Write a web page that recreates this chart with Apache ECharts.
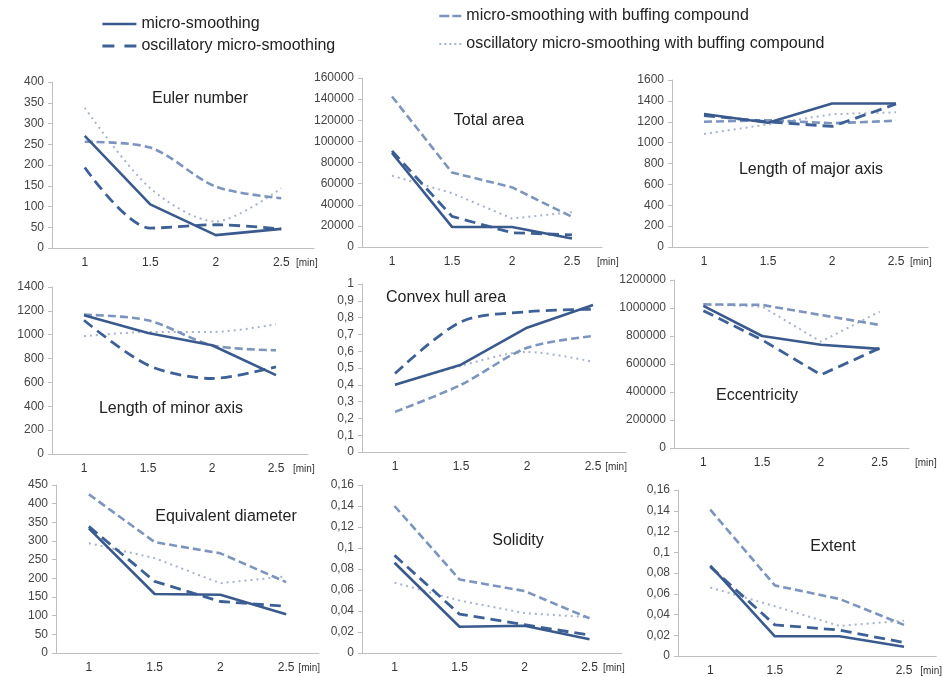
<!DOCTYPE html>
<html>
<head>
<meta charset="utf-8">
<script src="https://cdn.jsdelivr.net/npm/echarts@6/dist/echarts.min.js"></script>
<style>
html, body { margin: 0; padding: 0; background: #fff; }
#chart { width: 943px; height: 677px; }
</style>
</head>
<body>
<div id="chart"></div>
<script>
var minutes = ['1', '1.5', '2', '2.5'];
var seriesNames = [
    'micro-smoothing',
    'oscillatory micro-smoothing',
    'micro-smoothing with buffing compound',
    'oscillatory micro-smoothing with buffing compound'
];
var panelTitles = [
    'Euler number', 'Total area', 'Length of major axis',
    'Length of minor axis', 'Convex hull area', 'Eccentricity',
    'Equivalent diameter', 'Solidity', 'Extent'
];
var yMax = [400, 160000, 1600, 1400, 1, 1200000, 450, 0.16, 0.16];
var yStep = [50, 20000, 200, 200, 0.1, 200000, 50, 0.02, 0.02];

// one row per panel, values at 1 / 1.5 / 2 / 2.5 min
var microSmoothing = [
    [270, 105, 31, 46],
    [89000, 19000, 19000, 8000],
    [1275, 1190, 1375, 1375],
    [1163, 1015, 912, 661],
    [0.40, 0.52, 0.74, 0.875],
    [1015000, 800000, 737000, 708000],
    [334, 158, 156, 104],
    [0.086, 0.025, 0.026, 0.013],
    [0.087, 0.019, 0.019, 0.009]
];
var oscillatory = [
    [194, 48, 56, 46],
    [91000, 29000, 13500, 11500],
    [1260, 1200, 1155, 1370],
    [1121, 745, 633, 731],
    [0.467, 0.775, 0.835, 0.85],
    [981000, 772000, 523000, 713000],
    [339, 192, 138, 125],
    [0.093, 0.037, 0.027, 0.017],
    [0.086, 0.030, 0.025, 0.013]
];
var withCompound = [
    [256, 242, 148, 120],
    [142500, 70500, 56500, 28500],
    [1200, 1215, 1185, 1210],
    [1168, 1121, 912, 870],
    [0.239, 0.40, 0.62, 0.69],
    [1026000, 1022000, 950000, 879000],
    [425, 297, 267, 190],
    [0.140, 0.070, 0.059, 0.033],
    [0.141, 0.068, 0.055, 0.030]
];
var oscillatoryWithCompound = [
    [338, 144, 64, 144],
    [67500, 51000, 27000, 33000],
    [1083, 1175, 1272, 1291],
    [987, 1023, 1023, 1087],
    [0.40, 0.513, 0.596, 0.537],
    [1026000, 1010000, 760000, 974000],
    [294, 254, 187, 205],
    [0.067, 0.050, 0.038, 0.034],
    [0.066, 0.048, 0.029, 0.034]
];
var allData = [microSmoothing, oscillatory, withCompound, oscillatoryWithCompound];

// left, top, width, height, [min] gap, title x, title y
var boxes = [
    [52, 82, 262, 166, -18, 200, 99],
    [362, 78, 240, 169, -5, 489, 121],
    [672, 80, 256, 167, -18, 811, 170],
    [52, 287, 256, 167, -15, 171, 409],
    [362, 284, 264, 168, -28, 446, 298],
    [674, 280, 235, 168, 6, 757, 396],
    [56, 485, 263, 168, -21, 226, 517],
    [362, 485, 260, 168, -19, 518, 541],
    [678, 490, 260, 167, -16, 833, 547]
];
var smoothPanels = [0, 3, 4];

var lineStyles = [
    { color: '#3a5a8e', width: 2.6, type: 'solid' },
    { color: '#3d6096', width: 2.8, type: [11, 6] },
    { color: '#7d94bf', width: 2.6, type: [8, 4] },
    { color: '#a8b4cc', width: 2, type: [2, 4] }
];
var legendDash = ['solid', [12, 10], [10, 3], [2, 3]];

function fmt(v) {
    return String(+v.toFixed(2)).replace('.', ',');
}

var chart = echarts.init(document.getElementById('chart'));
var grid = [], xAxis = [], yAxis = [], series = [], texts = [];

boxes.forEach(function (b, i) {
    grid.push({ left: b[0], top: b[1], width: b[2], height: b[3] });
    xAxis.push({
        type: 'category',
        gridIndex: i,
        data: minutes,
        name: '[min]',
        nameLocation: 'end',
        nameGap: b[4],
        nameTextStyle: { fontSize: 10, color: '#333', verticalAlign: 'top', padding: [10, 0, 0, 0] },
        axisLine: { lineStyle: { color: '#bfbfbf' } },
        axisTick: { length: 4, lineStyle: { color: '#bfbfbf' } },
        axisLabel: { color: '#333', fontSize: 12, margin: 9 }
    });
    yAxis.push({
        type: 'value',
        gridIndex: i,
        min: 0,
        max: yMax[i],
        interval: yStep[i],
        splitLine: { show: false },
        axisLine: { show: true, lineStyle: { color: '#bfbfbf' } },
        axisTick: { show: true, length: 4, lineStyle: { color: '#bfbfbf' } },
        axisLabel: { color: '#444', fontSize: 12, margin: 8, formatter: fmt }
    });
    allData.forEach(function (d, s) {
        series.push({
            name: seriesNames[s],
            type: 'line',
            xAxisIndex: i,
            yAxisIndex: i,
            symbol: 'none',
            smooth: s > 0 && smoothPanels.indexOf(i) >= 0 ? 0.3 : false,
            lineStyle: lineStyles[s],
            itemStyle: { color: lineStyles[s].color },
            data: d[i],
            z: 10 - s
        });
    });
    texts.push({
        type: 'text',
        x: b[5],
        y: b[6],
        style: {
            text: panelTitles[i],
            fill: '#222',
            font: '16px "Liberation Sans", Arial, sans-serif',
            textAlign: 'center',
            textVerticalAlign: 'middle'
        }
    });
});

function legendItem(s) {
    return {
        name: seriesNames[s],
        itemStyle: { opacity: 0 },
        lineStyle: { color: lineStyles[s].color, width: lineStyles[s].width, type: legendDash[s] }
    };
}

var legendText = { fontSize: 16, color: '#222', fontFamily: '"Liberation Sans", Arial, sans-serif' };

option = {
    animation: false,
    textStyle: { fontFamily: '"Liberation Sans", Arial, sans-serif' },
    legend: [
        {
            data: [legendItem(0), legendItem(1)],
            orient: 'vertical',
            left: 96,
            top: 11,
            itemWidth: 34,
            itemHeight: 14,
            itemGap: 6,
            textStyle: legendText
        },
        {
            data: [legendItem(2), legendItem(3)],
            orient: 'vertical',
            left: 433,
            top: 3,
            itemWidth: 22,
            itemHeight: 14,
            itemGap: 12,
            textStyle: legendText
        }
    ],
    grid: grid,
    xAxis: xAxis,
    yAxis: yAxis,
    series: series,
    graphic: texts
};

chart.setOption(option);

window.addEventListener('resize', function () {
    chart.resize();
});
</script>
</body>
</html>
